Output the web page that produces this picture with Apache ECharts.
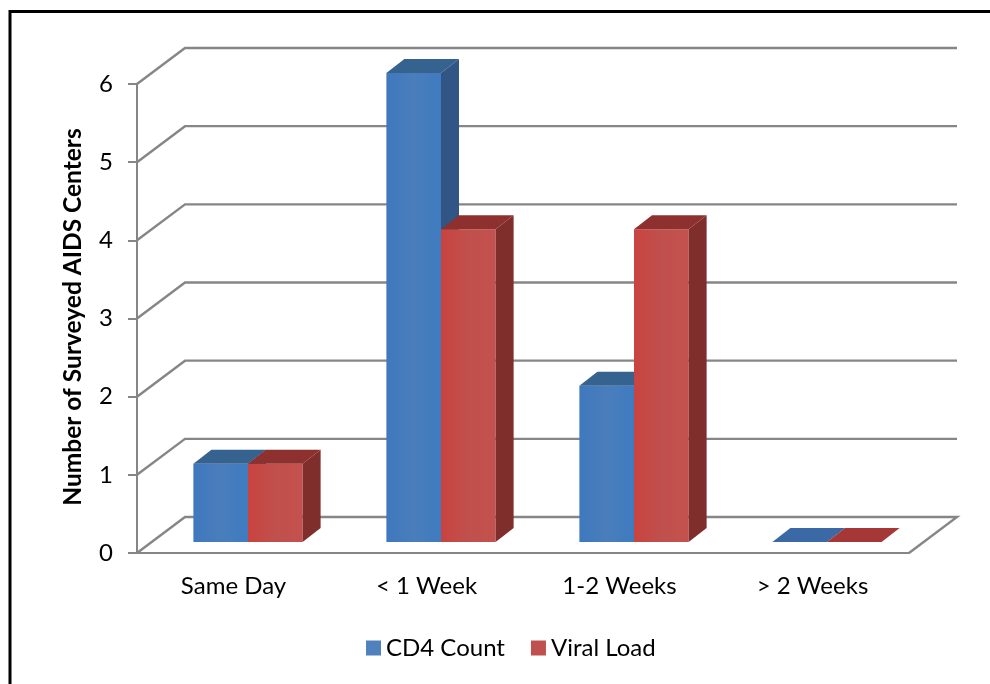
<!DOCTYPE html>
<html>
<head>
<meta charset="utf-8">
<title>Turnaround time</title>
<script src="https://cdn.jsdelivr.net/npm/echarts@6/dist/echarts.min.js"></script>
<style>
  html, body { margin: 0; padding: 0; background: #fff; }
  #chart { width: 990px; height: 684px; }
</style>
</head>
<body>
<div id="chart"></div>
<script>
const categories = ['Same Day', '< 1 Week', '1-2 Weeks', '> 2 Weeks']
const cd4Counts = [1, 6, 2, 0]
const viralLoads = [1, 4, 4, 0]
const yTicks = [1, 2, 3, 4, 5, 6]

const LINE = '#868686'
const FONT = 'Lato'
// fake 3D projection, px
const wallDx = 48
const wallDy = 36
const barShiftX = 14.5
const barShiftY = 11
const barDx = 18
const barDy = 14
const barWidthRatio = 0.283

const chart = echarts.init(document.getElementById('chart'))

function hGrad(stops) {
  return new echarts.graphic.LinearGradient(0, 0, 1, 0, stops)
}

function renderWall(params, api) {
  const p = api.coord([0, api.value(0)])
  const right = api.coord([categories.length - 1, 0])[0] + api.size([1, 0])[0] / 2
  const left = p[0] - api.size([1, 0])[0] / 2
  const pts = [[left, p[1]], [left + wallDx, p[1] - wallDy], [right + wallDx, p[1] - wallDy]]
  // floor also gets the closing edge on the right
  if (api.value(0) === 0) pts.push([right, p[1]])
  return {
    type: 'polyline',
    shape: { points: pts },
    style: { stroke: LINE, lineWidth: 2.4, fill: null },
  }
}

function barRenderer(side, colors) {
  return function (params, api) {
    const base = api.coord([api.value(0), 0])
    const top = api.coord([api.value(0), api.value(1)])
    const w = api.size([1, 0])[0] * barWidthRatio
    const x0 = base[0] + barShiftX + (side < 0 ? -w : 0)
    const x1 = x0 + w
    const yb = base[1] - barShiftY
    const yt = top[1] - barShiftY
    const flat = yb - yt <= 0
    const kids = []
    if (!flat) {
      kids.push({
        type: 'rect',
        shape: { x: x0, y: yt, width: w, height: yb - yt },
        style: { fill: hGrad(colors.front) },
      })
      kids.push({
        type: 'polygon',
        shape: { points: [[x1, yb], [x1 + barDx, yb - barDy], [x1 + barDx, yt - barDy], [x1, yt]] },
        style: { fill: colors.side },
      })
    }
    kids.push({
      type: 'polygon',
      shape: { points: [[x0, yt], [x0 + barDx, yt - barDy], [x1 + barDx, yt - barDy], [x1, yt]] },
      style: { fill: flat ? colors.flat : colors.top },
    })
    return { type: 'group', children: kids }
  }
}

const blue = {
  front: [
    { offset: 0, color: '#3F78BE' },
    { offset: 0.5, color: '#4A7EBB' },
    { offset: 1, color: '#3E7BC0' },
  ],
  top: '#36628F',
  side: '#315685',
  flat: '#3A69A6',
}
const red = {
  front: [
    { offset: 0, color: '#C9433F' },
    { offset: 0.5, color: '#C0504D' },
    { offset: 1, color: '#C4514E' },
  ],
  top: '#8E302E',
  side: '#7F2E2C',
  flat: '#A53836',
}

chart.setOption({
  animation: false,
  backgroundColor: '#fff',
  textStyle: { fontFamily: FONT },
  grid: { left: 137, right: 81, top: 84, bottom: 131 },
  legend: {
    data: ['CD4 Count', 'Viral Load'],
    left: 361,
    top: 631,
    itemWidth: 15,
    itemHeight: 15,
    itemGap: 26,
    icon: 'rect',
    textStyle: { fontFamily: FONT, fontSize: 24, color: '#000' },
  },
  xAxis: {
    type: 'category',
    data: categories,
    axisLine: { lineStyle: { color: LINE, width: 2 } },
    axisTick: { length: 7, lineStyle: { color: LINE, width: 2 } },
    axisLabel: { fontFamily: FONT, fontSize: 24, color: '#000', margin: 21 },
  },
  yAxis: {
    type: 'value',
    min: 0,
    max: 6,
    interval: 1,
    name: 'Number of Surveyed AIDS Centers',
    nameLocation: 'middle',
    nameGap: 51,
    nameTextStyle: { fontFamily: FONT, fontSize: 24.5, fontWeight: 'bold', color: '#000', padding: [0, 0, 0, 3] },
    axisLine: { show: true, lineStyle: { color: LINE, width: 2 } },
    axisTick: { show: true, length: 9, lineStyle: { color: LINE, width: 2 } },
    axisLabel: { fontFamily: FONT, fontSize: 24, color: '#000', margin: 24 },
    splitLine: { show: false },
  },
  series: [
    {
      type: 'custom',
      name: 'wall',
      z: 1,
      silent: true,
      data: [0].concat(yTicks).map((v) => [v]),
      encode: { y: 0 },
      renderItem: renderWall,
    },
    {
      type: 'custom',
      name: 'CD4 Count',
      z: 3,
      itemStyle: { color: '#4F81BD' },
      data: cd4Counts.map((v, i) => [i, v]),
      encode: { x: 0, y: 1 },
      renderItem: barRenderer(-1, blue),
    },
    {
      type: 'custom',
      name: 'Viral Load',
      z: 4,
      itemStyle: { color: '#C0504D' },
      data: viralLoads.map((v, i) => [i, v]),
      encode: { x: 0, y: 1 },
      renderItem: barRenderer(1, red),
    },
  ],
  graphic: [
    {
      type: 'polyline',
      shape: { points: [[10, 684], [10, 11.5], [990, 11.5]] },
      style: { stroke: '#000', lineWidth: 3, fill: null },
    },
  ],
})
</script>
</body>
</html>
